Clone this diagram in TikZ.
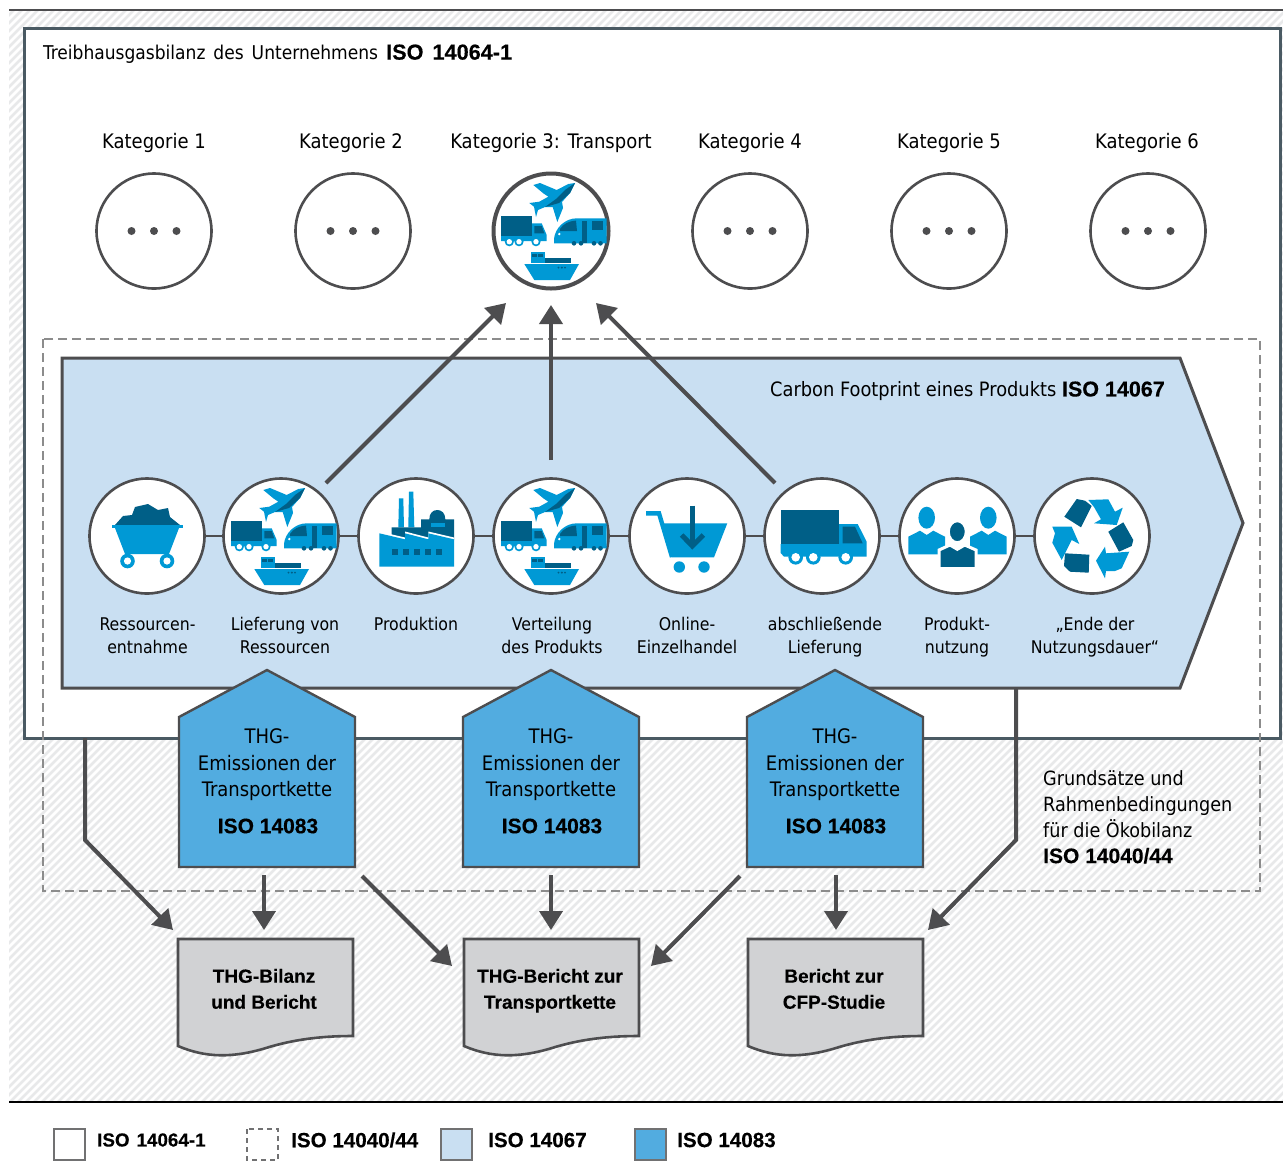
\documentclass[tikz,border=0pt]{standalone}
\usepackage{fontspec}
\usetikzlibrary{arrows.meta,calc}
\setmainfont{DejaVu Sans Condensed}
\newfontfamily\arialb{Liberation Sans}[BoldFeatures={FakeBold=0.3}]
\newcommand{\isofont}{\arialb\bfseries}
\newcommand{\ls}[2]{#1\strut\\#2\strut}
\definecolor{ink}{HTML}{4D4D4F}
\definecolor{frame}{HTML}{4A5A63}
\definecolor{hatch}{HTML}{E8E9EA}
\definecolor{lblue}{HTML}{C9DFF2}
\definecolor{hblue}{HTML}{52ACE0}
\definecolor{ic}{HTML}{0099D5}
\definecolor{icd}{HTML}{005F87}
\definecolor{docg}{HTML}{D1D2D4}
\definecolor{dashg}{HTML}{8C8C8C}
\tikzset{
  circ/.style={circle,draw=ink,line width=2.6pt,fill=white,minimum size=115pt,inner sep=0pt},
  circT/.style={circ,line width=4pt},
  txt/.style={inner sep=0pt,align=center,text=black},
  conn/.style={draw=ink,line width=4pt,-{Triangle[length=19pt,width=23pt]}},
  doc/.style={draw=ink,line width=2.6pt,fill=docg},
  house/.style={draw=ink,line width=2.4pt,fill=hblue},
  leg/.style={inner sep=0pt,anchor=west,font=\isofont\fontsize{20.6}{24}\selectfont},
  lab/.style={txt,font=\fontsize{17.5}{23}\selectfont},
  kat/.style={txt,font=\fontsize{20}{24}\selectfont},
  isob/.style={txt,font=\isofont\fontsize{21}{25}\selectfont}
}
\newcommand{\multiicon}[2]{\begin{scope}[shift={(#1,#2)}]
  % plane
  \fill[ic] (24,-48)--(19,-38)--(11,-29)--(12,-23)--(6.3,-9)--(1.7,-24)--(-6,-24)--(-13,-21)--(-15,-14)--(-17,-24.3)--(-21.7,-28)--(-11.7,-29.3)--(-2.7,-34.3)--(-7.7,-37.7)--(-17.7,-46)--(-11,-48)--(5.7,-41)--(17.3,-47)--cycle;
  \fill[icd] (24,-48)--(19,-38)--(8,-28)--(-6,-24)--(5,-32)--(14,-41)--cycle;
  % truck
  \fill[ic] (-19,-7.7)--(-9.3,-7.7)--(-4.3,4)--(-4.3,10)--(-50,10)--(-50,5)--(-19,5)--cycle;
  \fill[icd] (-50,-15) rectangle (-19.5,5);
  \fill[icd] (-16.7,-5)--(-9.3,-5)--(-6.7,2.3)--(-16.7,2.3)--cycle;
  \foreach \w in {-41.7,-32,-15}{\fill[ic] (\w,10.7) circle (4.6);\fill[white] (\w,10.7) circle (2.7);}
  % train
  \fill[ic] (3,12.3)--(3,8) .. controls (4,-3) and (14,-12.7) .. (25.7,-12.7)--(55.5,-12.7)--(55.5,12.3)--cycle;
  \fill[icd] (9,-2) .. controls (12,-7) and (18,-10) .. (25,-10.5)--(26,0)--(9,0)--cycle;
  \fill[icd] (30.7,-10.5) rectangle (36.3,12.3);
  \fill[icd] (40.7,-10.5) rectangle (51.7,-1);
  \fill[white] (8.3,3) circle (1.3);
  \foreach \w in {23,30,43,49.5}{\fill[icd] (\w,12.3) circle (2.3);}
  % ship
  \fill[ic] (-26.7,33)--(28,33)--(19,49)--(-16.7,49)--cycle;
  \fill[icd] (-6,26.7) rectangle (19.7,32);
  \fill[ic] (-20,21.3) rectangle (-6,32);
  \fill[icd] (-18.7,23.3) rectangle (-14.5,25.7);
  \fill[icd] (-12.7,23.3) rectangle (-8,25.7);
  \foreach \w in {7.5,10.8,14}{\fill[icd] (\w,36.6) circle (1.1);}
\end{scope}}
\begin{document}
\begin{tikzpicture}[x=1pt,y=-1pt]
\useasboundingbox (0,0) rectangle (1283,1163);
% hatched ground
\begin{scope}
  \clip (9,10) rectangle (1283,1102);
  \foreach \i in {0,8,...,2400}{\draw[hatch,line width=2.6pt] (\i,0)--(\i-1200,1200);}
\end{scope}
\draw[ink,line width=1.6pt] (9,10)--(1283,10);
\draw[black,line width=1.6pt] (9,1102)--(1283,1102);
% ISO 14064-1 frame
\draw[frame,line width=3pt,fill=white] (24,28) rectangle (1280,738);
% ISO 14040/44 frame
\draw[dashg,line width=2.2pt,dash pattern=on 9pt off 5pt] (43,339) rectangle (1260,891);
% product arrow
\draw[ink,line width=3pt,fill=lblue] (62,358)--(1180,358)--(1243,523)--(1180,688)--(62,688)--cycle;
% titles
\node[txt,anchor=west,font=\fontsize{19}{24}\selectfont] (title) at (43,54) {Treibhausgasbilanz\hspace{8pt}des\hspace{8pt}Unternehmens\hspace{8pt}{\isofont\fontsize{21.7}{24}\selectfont ISO\hspace{9pt}14064-1}};
\node[txt,anchor=east,font=\fontsize{19.8}{24}\selectfont] (cfp) at (1165,391) {Carbon Footprint eines Produkts {\isofont\fontsize{21.5}{24}\selectfont ISO 14067}};
% categories
\node[kat] (k1) at (154,143) {Kategorie 1};
\node[kat] (k2) at (351,143) {Kategorie 2};
\node[kat] (k3) at (551,143) {Kategorie 3: Transport};
\node[kat] (k4) at (750,143) {Kategorie 4};
\node[kat] (k5) at (949,143) {Kategorie 5};
\node[kat] (k6) at (1147,143) {Kategorie 6};
\foreach \n/\x in {c1/154,c2/353,c4/750,c5/949,c6/1148}{
  \node[circ] (\n) at (\x,231) {};
  \foreach \d in {-22.5,0,22.5}{\fill[ink] (\x+\d,231) circle (4);}
}
\node[circT] (c3) at (551,231) {};
\multiicon{551}{231}
% value chain
\node[circ] (l1) at (147,536) {};
\node[circ] (l2) at (281,536) {};
\node[circ] (l3) at (416,536) {};
\node[circ] (l4) at (551,536) {};
\node[circ] (l5) at (687,536) {};
\node[circ] (l6) at (822,536) {};
\node[circ] (l7) at (957,536) {};
\node[circ] (l8) at (1092,536) {};
\foreach \a/\b in {l1/l2,l2/l3,l3/l4,l4/l5,l5/l6,l6/l7,l7/l8}{\draw[ink,line width=2.6pt] (\a)--(\b);}
% coal wagon
\begin{scope}[shift={(147,536)}]
  \fill[icd] (-32,-11)--(-24,-20)--(-15,-21)--(-12,-29)--(1,-32)--(11,-26)--(21,-28)--(23,-19)--(33,-11)--cycle;
  \fill[ic] (-35,-11) rectangle (36,-8);
  \fill[ic] (-32,-8)--(32,-8)--(22,18)--(-22,18)--cycle;
  \foreach \w in {-19.5,20}{\fill[ic] (\w,25) circle (7.3);\fill[white] (\w,25) circle (3.6);}
\end{scope}
\multiicon{281}{536}
% factory
\begin{scope}[shift={(416,536)}]
  \fill[ic] (-17,-37.7)--(-12.7,-37.7)--(-12,-8.7)--(-17.7,-8.7)--cycle;
  \fill[ic] (-7,-44.3)--(-2.7,-44.3)--(-1.7,-8.7)--(-7.7,-8.7)--cycle;
  \fill[icd] (-24.3,4)--(-24.3,-8.7)--(5,-8.7)--(5,-16.7)--(13.3,-16.7) .. controls (13.3,-23) and (17,-26) .. (21.3,-26) .. controls (25.6,-26) and (29.3,-23) .. (29.3,-16.7)--(38,-16.7)--(38,4)--cycle;
  \fill[ic] (14.7,-12.7) rectangle (29,-9.3);
  \fill[white] (-36.7,-4.5)--(-11,1.5)--(-11,-4.5)--(12.3,1.5)--(12.3,-4.5)--(38,1.5)--(38,4)--(-36.7,4)--cycle;
  \fill[ic] (-36.7,30.7)--(-36.7,-2.7)--(-11,3.3)--(-11,-2.7)--(12.3,3.3)--(12.3,-2.7)--(38,3.3)--(38,30.7)--cycle;
  \foreach \w in {-23.7,-12.7,-1.7,9.3,20}{\fill[icd] (\w,13) rectangle (\w+6,19);}
\end{scope}
\multiicon{551}{536}
% shopping cart
\begin{scope}[shift={(687,536)}]
  \draw[ic,line width=4.4pt] (-41,-22.7)--(-28,-22.7)--(-15,21);
  \fill[ic] (-25.3,-12.7)--(40.3,-12.7)--(27,21.3)--(-15.3,21.3)--cycle;
  \fill[ic] (-7.7,31) circle (5.7);
  \fill[ic] (17,31) circle (5.7);
  \draw[icd,line width=5pt] (5.3,-30.3)--(5.3,9);
  \draw[icd,line width=5pt] (-5.3,-1)--(5.3,10)--(16.3,-1);
\end{scope}
% big truck
\begin{scope}[shift={(822,536)}]
  \fill[ic] (17,-12)--(35.7,-12)--(44.7,5.7)--(44.7,20.7)--(-38,20.7)--(-41.3,17)--(-41.3,8)--(17,8)--cycle;
  \fill[icd] (-41.3,-26) rectangle (17,7.5);
  \fill[icd] (20.7,-9.3)--(33,-9.3)--(40.7,7.3)--(20.7,7.3)--cycle;
  \foreach \w in {-26.3,-8.7,23.7}{\fill[ic] (\w,21.3) circle (7.3);\fill[white] (\w,21.3) circle (4.3);}
\end{scope}
% people
\begin{scope}[shift={(957,536)}]
  \fill[ic] (-30.3,-18.3) ellipse (8.3 and 11);
  \fill[ic] (31.3,-18.3) ellipse (8.3 and 11);
  \fill[ic] (-48.7,0.7)--(-37,-5.3)--(-30.3,-1)--(-23.7,-5.3)--(-12,0.7)--(-12,18.3)--(-48.7,18.3)--cycle;
  \fill[ic] (13,0.7)--(24.7,-5.3)--(31.3,-1)--(38,-5.3)--(49.7,0.7)--(49.7,18.3)--(13,18.3)--cycle;
  \draw[white,line width=3pt,fill=icd] (0.3,-4.3) ellipse (9 and 11);
  \draw[white,line width=3pt,fill=icd] (-18,14)--(-7,9)--(0.3,13.3)--(7.7,9)--(19,14)--(19,32.7)--(-18,32.7)--cycle;
\end{scope}
% recycling
\begin{scope}[shift={(1092,536)}]
  \fill[icd] (-27.7,-19.3)--(-15.3,-37)--(-7,-35.3)--(-0.3,-30)--(-11,-8.7)--cycle;
  \fill[icd] (16.3,-4.3)--(31.3,-13.7)--(41.3,4)--(39.7,10)--(27,15.7)--cycle;
  \fill[icd] (-27,17.3)--(-2.7,18.7)--(-3.3,36.7)--(-22,35.7)--(-28,30)--cycle;
  \fill[ic] (-3.7,-36)--(16.3,-36.7)--(23,-24.3)--(30.7,-28.3)--(24.7,-11)--(2,-12.7)--(9,-16.7)--(2,-29)--cycle;
  \fill[ic] (4,24.7)--(13,10.7)--(14,17.3)--(37.3,15.7)--(29.7,32.3)--(23,35)--(14,35)--(13,42.3)--cycle;
  \fill[ic] (-39.7,-9.3)--(-20.3,-9.3)--(-12.7,8)--(-20.3,4)--(-30.3,24)--(-39.7,6.7)--(-37,-2.7)--cycle;
\end{scope}
% chain labels
\node[lab] (t1) at (147.5,637) {\ls{Ressourcen-}{entnahme}};
\node[lab] (t2) at (285,637) {\ls{Lieferung von}{Ressourcen}};
\node[lab] (t3) at (416,625.5) {Produktion\strut};
\node[lab] (t4) at (552,637) {\ls{Verteilung}{des Produkts}};
\node[lab] (t5) at (687,637) {\ls{Online-}{Einzelhandel}};
\node[lab] (t6) at (825,637) {\ls{abschließende}{Lieferung}};
\node[lab] (t7) at (957,637) {\ls{Produkt-}{nutzung}};
\node[lab] (t8) at (1095,637) {\ls{„Ende der}{Nutzungsdauer“}};
% arrows to category 3
\coordinate (a1s) at (326,483); \coordinate (a1e) at (506,303);
\coordinate (a2s) at (551,460); \coordinate (a2e) at (551,305);
\coordinate (a3s) at (775,483); \coordinate (a3e) at (596,303);
\draw[conn] (a1s)--(a1e);
\draw[conn] (a2s)--(a2e);
\draw[conn] (a3s)--(a3e);
% lower connectors (behind houses)
\coordinate (b1s) at (85,738); \coordinate (b1m) at (85,840); \coordinate (b1e) at (173,930);
\coordinate (b7s) at (1016,688); \coordinate (b7m) at (1016,840); \coordinate (b7e) at (928,930);
\draw[conn] (b1s)--(b1m)--(b1e);
\draw[conn] (b7s)--(b7m)--(b7e);
% houses
\foreach \n/\x in {h1/267,h2/551,h3/835}{
  \draw[house] (\x-88,717)--(\x,670)--(\x+88,717)--(\x+88,867)--(\x-88,867)--cycle;
  \node[txt,font=\fontsize{20}{26.5}\selectfont] (\n) at (\x,765) {THG-\\Emissionen der\\Transportkette};
  \node[isob] (\n i) at (\x+1,826) {ISO 14083};
}
% documents
\foreach \n/\x/\a/\b in {d1/178/THG-Bilanz/und Bericht,d2/464/THG-Bericht zur/Transportkette,d3/748/Bericht zur/CFP-Studie}{
  \draw[doc] (\x,939)--(\x+175,939)--(\x+175,1036) .. controls (\x+150,1036) and (\x+120,1038) .. (\x+88,1048) .. controls (\x+55,1058) and (\x+28,1058) .. (\x,1046)--cycle;
  \node[txt,font=\isofont\fontsize{19}{26}\selectfont] (\n) at (\x+86,990.5) {\a\strut\\\b\strut};
}
\coordinate (d1top) at (264,930); \coordinate (h1b) at (264,875);
\coordinate (d2top) at (551,930); \coordinate (h2b) at (551,875);
\coordinate (d3top) at (836,930); \coordinate (h3b) at (836,875);
\coordinate (x1s) at (362,876); \coordinate (x1e) at (452,966);
\coordinate (x2s) at (740,876); \coordinate (x2e) at (651,966);
\draw[conn] (h1b)--(d1top);
\draw[conn] (h2b)--(d2top);
\draw[conn] (h3b)--(d3top);
\draw[conn] (x1s)--(x1e);
\draw[conn] (x2s)--(x2e);
% right note
\node[txt,anchor=north west,align=left,font=\fontsize{19.6}{26}\selectfont] (note) at (1043,770) {Grundsätze und\\Rahmenbedingungen\\für die Ökobilanz\\{\isofont\fontsize{21}{26}\selectfont ISO 14040/44}};
% legend
\draw[ink!80,line width=1.4pt,fill=white] (54,1129) rectangle (85,1160);
\draw[ink!80,line width=1.4pt,dash pattern=on 5pt off 4pt] (247,1129) rectangle (278,1160);
\draw[ink!80,line width=1.4pt,fill=lblue] (441,1129) rectangle (472,1160);
\draw[ink!80,line width=1.4pt,fill=hblue] (635,1129) rectangle (666,1160);
\node[leg,font=\isofont\fontsize{18.8}{24}\selectfont] (g1) at (97,1140) {ISO\hspace{7pt}14064-1};
\node[leg] (g2) at (291,1140) {ISO 14040/44};
\node[leg] (g3) at (488,1140) {ISO 14067};
\node[leg] (g4) at (677,1140) {ISO 14083};
\end{tikzpicture}
\end{document}
